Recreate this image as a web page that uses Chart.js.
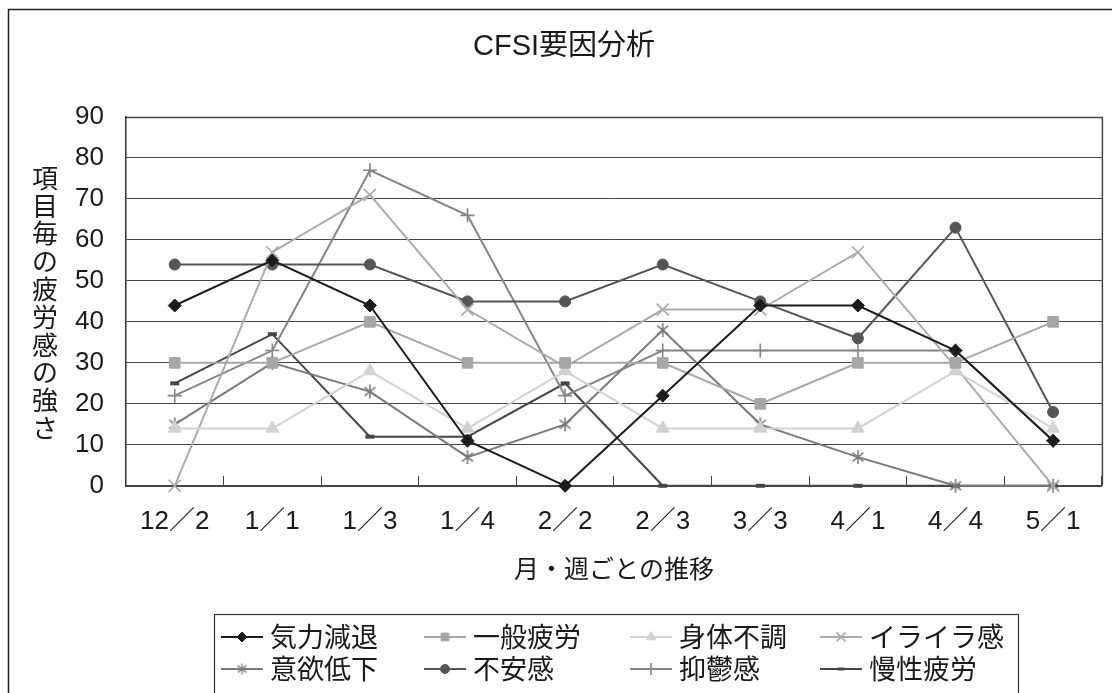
<!DOCTYPE html>
<html>
<head>
<meta charset="utf-8">
<title>CFSI要因分析</title>
<script src="https://cdn.jsdelivr.net/npm/chart.js@4.4.1/dist/chart.umd.min.js"></script>
<style>
  html, body { margin: 0; padding: 0; background: #ffffff; }
  #wrap { width: 1112px; height: 693px; position: relative; overflow: hidden; }
  canvas { display: block; }
</style>
</head>
<body>
<div id="wrap"><canvas id="chart" width="1112" height="693"></canvas></div>
<script>
// ---- data ----
const categories = ['12／2', '1／1', '1／3', '1／4', '2／2', '2／3', '3／3', '4／1', '4／4', '5／1'];
const seriesNames = ['気力減退', '一般疲労', '身体不調', 'イライラ感', '意欲低下', '不安感', '抑鬱感', '慢性疲労'];
const kiryokuGentai = [44, 55, 44, 11, 0, 22, 44, 44, 33, 11];
const ippanHirou    = [30, 30, 40, 30, 30, 30, 20, 30, 30, 40];
const shintaiFuchou = [14, 14, 28, 14, 28, 14, 14, 14, 28, 14];
const irairaKan     = [0, 57, 71, 43, 29, 43, 43, 57, 29, 0];
const iyokuTeika    = [15, 30, 23, 7, 15, 38, 15, 7, 0, 0];
const fuanKan       = [54, 54, 54, 45, 45, 54, 45, 36, 63, 18];
const yokuutsuKan   = [22, 33, 77, 66, 22, 33, 33, 33, 33, 11];
const manseiHirou   = [25, 37, 12, 12, 25, 0, 0, 0, 0, 0];
const yMin = 0, yMax = 90, yStep = 10;
const chartTitle = 'CFSI要因分析';
const yAxisTitle = '項目毎の疲労感の強さ';
const xAxisTitle = '月・週ごとの推移';

// ---- fonts ----
const CJK = '"Noto Sans CJK JP", "Noto Sans", sans-serif';
const NUM = '"Liberation Sans", "Noto Sans CJK JP", sans-serif';

// ---- custom marker images ----
function asteriskMarker(color, r, lw) {
  const s = Math.ceil(2 * r + 4);
  const c = document.createElement('canvas');
  c.width = s; c.height = s;
  const g = c.getContext('2d');
  const m = s / 2;
  g.strokeStyle = color;
  g.lineWidth = lw;
  g.beginPath();
  [90, 38, 142].forEach(a => {
    const rad = a * Math.PI / 180;
    const dx = Math.cos(rad) * r, dy = Math.sin(rad) * r;
    g.moveTo(m - dx, m - dy);
    g.lineTo(m + dx, m + dy);
  });
  g.stroke();
  return c;
}
function dashMarker(color, w, h) {
  const c = document.createElement('canvas');
  c.width = w + 2; c.height = h + 2;
  const g = c.getContext('2d');
  g.fillStyle = color;
  g.fillRect(1, 1, w, h);
  return c;
}

// ---- series styles ----
const styles = [
  { color: '#1c1c1c', pointStyle: 'rectRot',  radius: 6.5, pbw: 1 },
  { color: '#a6a6a6', pointStyle: 'rect',     radius: 7.5, pbw: 1 },
  { color: '#d2d2d2', pointStyle: 'triangle', radius: 7.5, pbw: 1 },
  { color: '#ababab', pointStyle: 'crossRot', radius: 8.5, pbw: 1.6 },
  { color: '#7a7a7a', pointStyle: asteriskMarker('#7a7a7a', 7, 1.6), radius: 7, pbw: 1 },
  { color: '#555555', pointStyle: 'circle',   radius: 5.5, pbw: 1 },
  { color: '#858585', pointStyle: 'cross',    radius: 7,   pbw: 1.6 },
  { color: '#464646', pointStyle: dashMarker('#464646', 9, 4), radius: 5, pbw: 1 }
];
const legendMarkers = [
  { pointStyle: 'rectRot',  radius: 5 },
  { pointStyle: 'rect',     radius: 5.5 },
  { pointStyle: 'triangle', radius: 5.5 },
  { pointStyle: 'crossRot', radius: 6.5 },
  { pointStyle: asteriskMarker('#7a7a7a', 5.5, 1.3), radius: 5 },
  { pointStyle: 'circle',   radius: 4.5 },
  { pointStyle: 'cross',    radius: 6 },
  { pointStyle: dashMarker('#464646', 7, 3), radius: 4 }
];

const seriesValues = [kiryokuGentai, ippanHirou, shintaiFuchou, irairaKan, iyokuTeika, fuanKan, yokuutsuKan, manseiHirou];

const datasets = seriesNames.map((name, i) => ({
  label: name,
  data: seriesValues[i],
  borderColor: styles[i].color,
  backgroundColor: styles[i].color,
  borderWidth: 2,
  pointStyle: styles[i].pointStyle,
  pointRadius: styles[i].radius,
  pointHoverRadius: styles[i].radius,
  pointBorderWidth: styles[i].pbw,
  pointBackgroundColor: styles[i].color,
  pointBorderColor: styles[i].color,
  tension: 0,
  fill: false,
  clip: false
}));

// ---- decorations: frame, title, stacked y title, plot border, legend ----
const decorations = {
  id: 'decorations',
  beforeDraw(chart) {
    const ctx = chart.ctx;
    ctx.save();
    ctx.fillStyle = '#ffffff';
    ctx.fillRect(0, 0, chart.width, chart.height);
    ctx.strokeStyle = '#222222';
    ctx.lineWidth = 1.5;
    ctx.strokeRect(8.5, 9.5, chart.width + 20, chart.height + 20);
    ctx.restore();
  },
  beforeDatasetsDraw(chart) {
    const ctx = chart.ctx, a = chart.chartArea;
    ctx.save();
    ctx.strokeStyle = '#444444';
    ctx.lineWidth = 1.5;
    ctx.beginPath();
    ctx.moveTo(a.left, a.top + 0.5);
    ctx.lineTo(a.right + 0.5, a.top + 0.5);
    ctx.lineTo(a.right + 0.5, a.bottom);
    ctx.stroke();
    ctx.restore();
  },
  afterDraw(chart) {
    const ctx = chart.ctx;
    ctx.save();
    ctx.fillStyle = '#1a1a1a';
    ctx.textBaseline = 'middle';

    // chart title
    ctx.font = '29px ' + NUM;
    ctx.textAlign = 'center';
    ctx.fillText(chartTitle, 564, 47);

    // y axis title, upright characters stacked vertically
    ctx.font = '26px ' + CJK;
    const chars = Array.from(yAxisTitle);
    chars.forEach((ch, k) => ctx.fillText(ch, 45, 178 + k * 27.8));

    // legend box
    const box = { left: 214, top: 614, right: 1018 };
    ctx.strokeStyle = '#333333';
    ctx.lineWidth = 1.2;
    ctx.strokeRect(box.left + 0.5, box.top + 0.5, box.right - box.left, 200);

    const colX = [221, 424, 630, 820];
    const rowY = [637, 669];
    ctx.font = '27px ' + CJK;
    ctx.textAlign = 'left';
    seriesNames.forEach((name, i) => {
      const x = colX[i % 4], y = rowY[Math.floor(i / 4)];
      const st = styles[i];
      ctx.strokeStyle = st.color;
      ctx.lineWidth = 2;
      ctx.beginPath();
      ctx.moveTo(x, y);
      ctx.lineTo(x + 42, y);
      ctx.stroke();
      ctx.fillStyle = st.color;
      ctx.strokeStyle = st.color;
      ctx.lineWidth = st.pbw;
      Chart.helpers.drawPoint(ctx, {
        pointStyle: legendMarkers[i].pointStyle,
        radius: legendMarkers[i].radius,
        borderWidth: st.pbw,
        rotation: 0
      }, x + 21, y);
      ctx.fillStyle = '#1a1a1a';
      ctx.fillText(name, x + 49, y);
    });
    ctx.restore();
  }
};

new Chart(document.getElementById('chart'), {
  type: 'line',
  data: { labels: categories, datasets },
  options: {
    responsive: false,
    animation: false,
    devicePixelRatio: 1,
    layout: { padding: { top: 117, right: 9, bottom: 110, left: 53 } },
    plugins: {
      legend: { display: false },
      title: { display: false },
      tooltip: { enabled: false }
    },
    scales: {
      x: {
        type: 'category',
        offset: true,
        grid: {
          offset: true,
          drawOnChartArea: false,
          drawTicks: true,
          tickLength: -10,
          color: '#444444',
          lineWidth: 1
        },
        border: { display: true, color: '#444444', width: 2 },
        ticks: {
          color: '#1a1a1a',
          font: { family: NUM, size: 26 },
          padding: 30,
          maxRotation: 0,
          autoSkip: false
        },
        title: {
          display: true,
          text: xAxisTitle,
          color: '#1a1a1a',
          font: { family: CJK, size: 25 },
          padding: { top: -14, bottom: 0 }
        }
      },
      y: {
        min: yMin,
        max: yMax,
        grid: {
          drawTicks: false,
          color: '#444444',
          lineWidth: 1
        },
        border: { display: true, color: '#333333', width: 1.5 },
        ticks: {
          stepSize: yStep,
          color: '#1a1a1a',
          font: { family: NUM, size: 26 },
          padding: 22
        }
      }
    }
  },
  plugins: [decorations]
});
</script>
</body>
</html>
